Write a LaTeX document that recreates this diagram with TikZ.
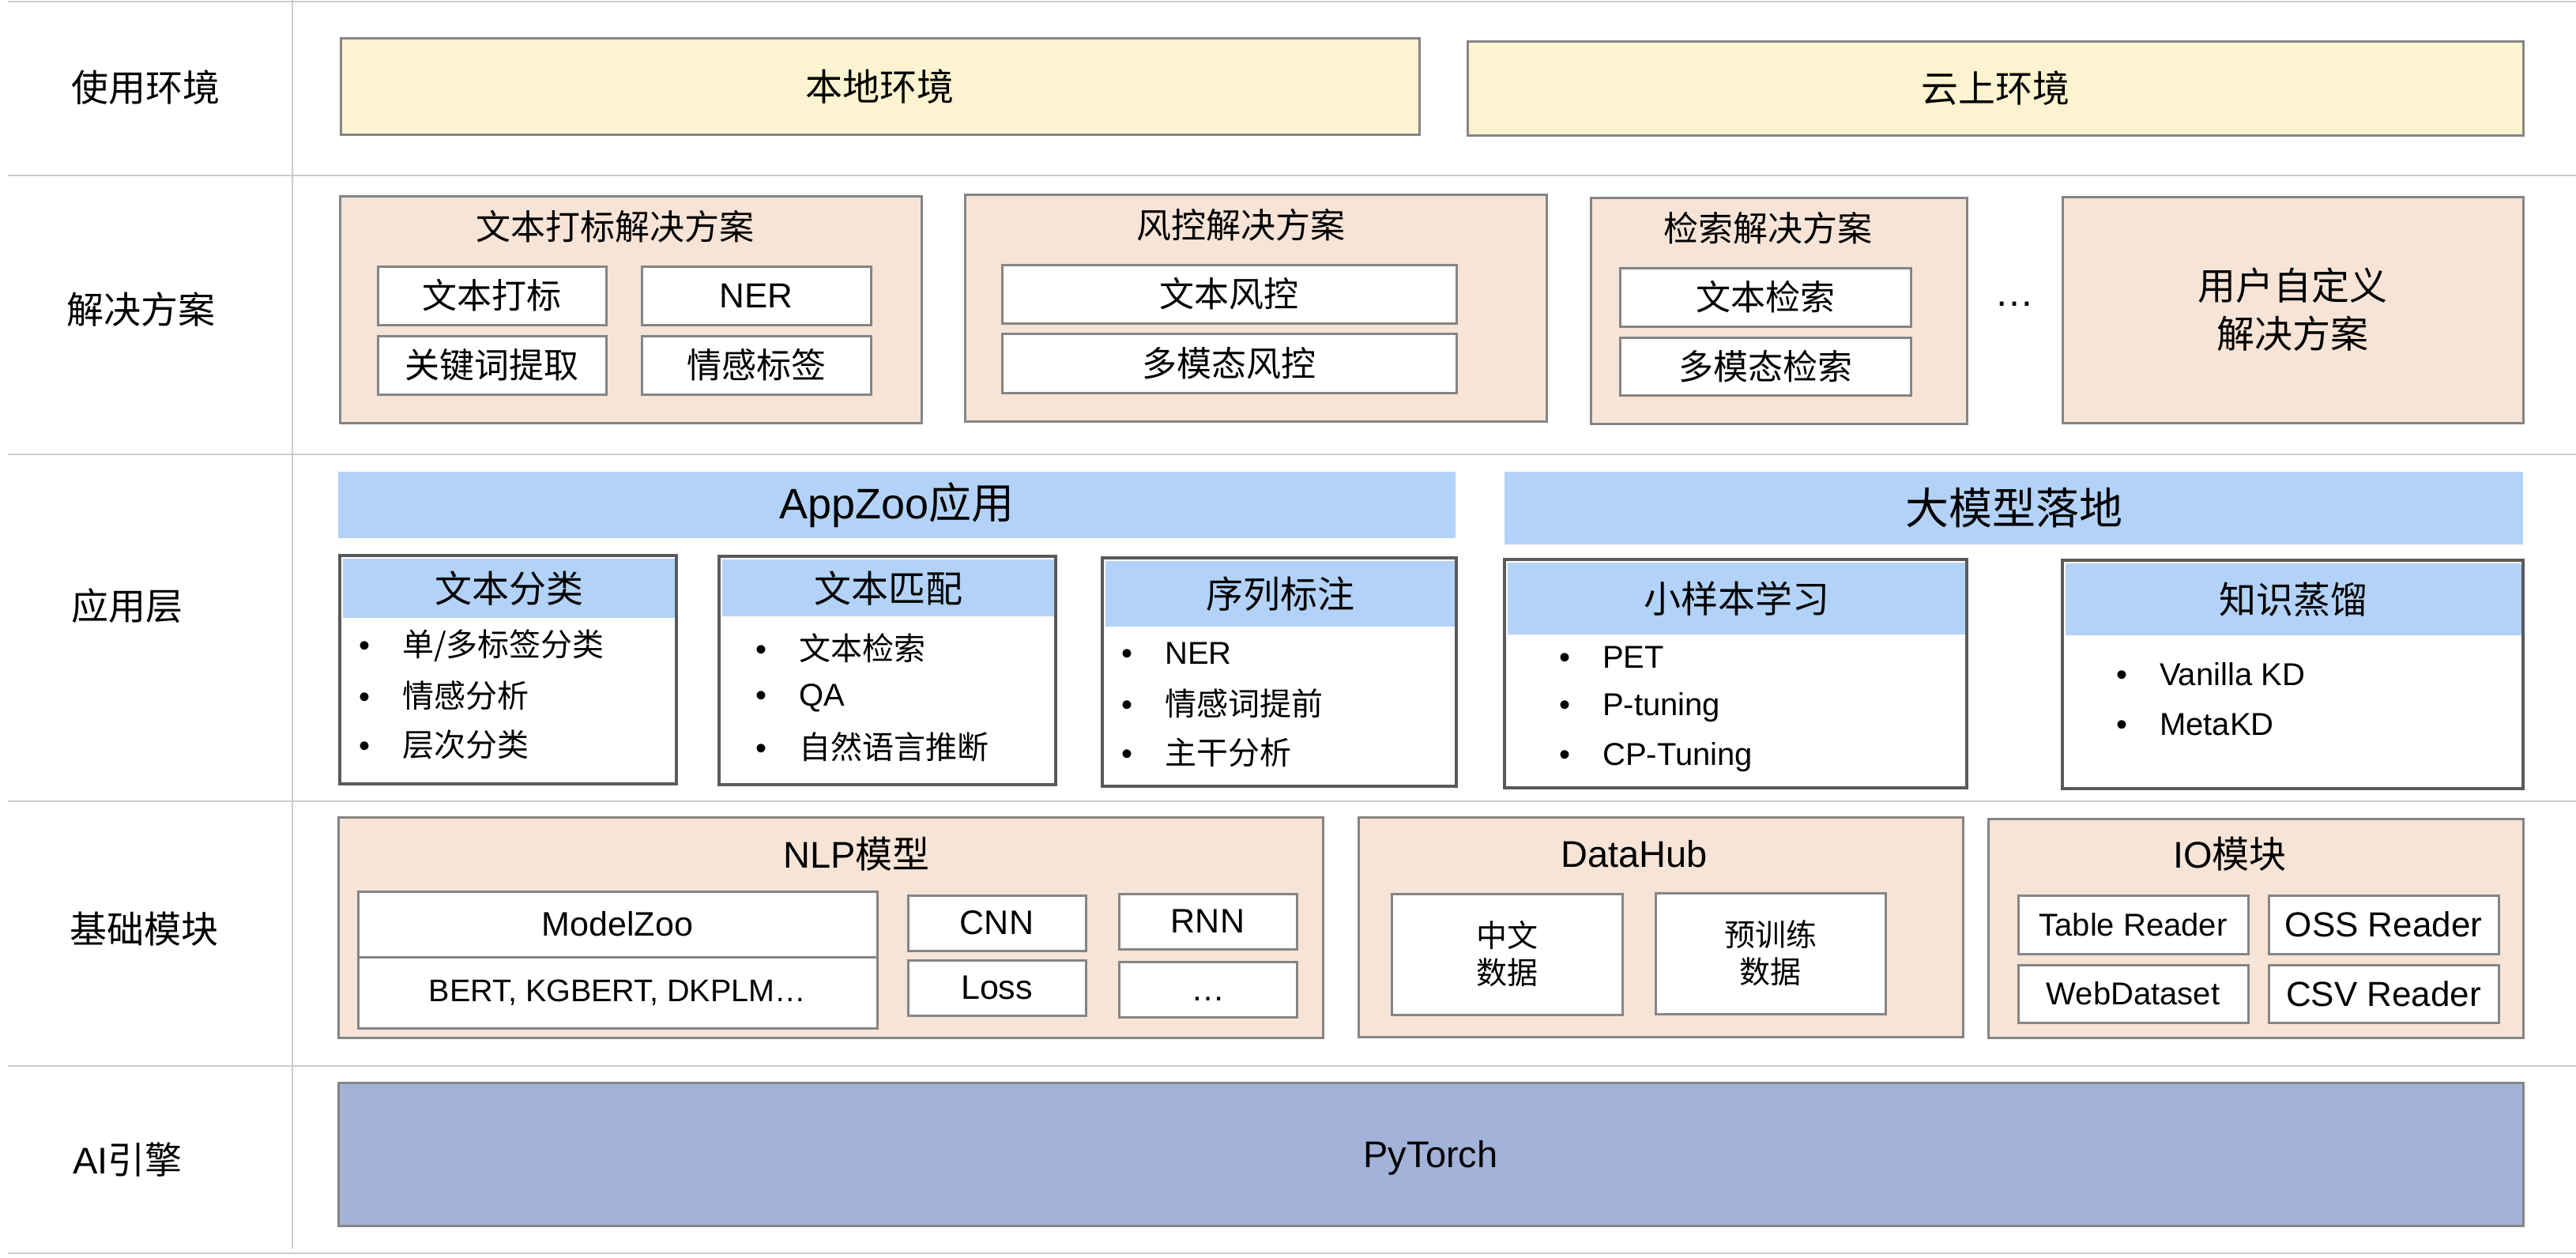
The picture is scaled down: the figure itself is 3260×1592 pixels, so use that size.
\documentclass[tikz,border=0pt]{standalone}
\usepackage{fontspec}
\setmainfont{Noto Sans CJK SC}
\newfontfamily\lat{Liberation Sans}
\definecolor{gridc}{HTML}{CCCCCC}
\definecolor{bordc}{HTML}{858585}
\definecolor{darkc}{HTML}{5A5A5A}
\definecolor{envc}{HTML}{FCF3D0}
\definecolor{beigec}{HTML}{F6E4D7}
\definecolor{bluec}{HTML}{B3D2F7}
\definecolor{torchc}{HTML}{A3B2D9}
\newcommand\fsz[1]{\fontsize{#1pt}{#1pt}\selectfont}
\newcommand\bitem[1]{\makebox[55pt][l]{\lat •}#1}
\tikzset{
  wh/.style 2 args={minimum width=#1, minimum height=#2},
  gridline/.style={draw=gridc, line width=2pt},
  rowlabel/.style={anchor=west, inner sep=0pt, font=\fsz{47}},
  envbox/.style={draw=bordc, line width=3pt, fill=envc, inner sep=0pt, font=\fsz{47}},
  solbox/.style={draw=bordc, line width=3pt, fill=beigec, inner sep=0pt},
  whitebox/.style={draw=bordc, line width=3pt, fill=white, inner sep=0pt, font=\fsz{44}, align=center},
  banner/.style={fill=bluec, inner sep=0pt},
  appbox/.style={draw=darkc, line width=3.5pt, fill=white, inner sep=0pt},
  apphead/.style={fill=bluec, inner sep=0pt, font=\fsz{47}},
  titletext/.style={inner sep=0pt, font=\fsz{47}},
  itemtxt/.style={anchor=west, inner sep=0pt, font=\fsz{40}},
  torchbox/.style={draw=bordc, line width=3pt, fill=torchc, inner sep=0pt, font=\lat\fsz{47}}
}
\begin{document}
\begin{tikzpicture}[x=1pt,y=-1pt]
\useasboundingbox[fill=white] (0,0) rectangle (3260,1592);
% grid
\draw[gridline] (10,2) -- (3260,2);
\draw[gridline] (10,222) -- (3260,222);
\draw[gridline] (10,575) -- (3260,575);
\draw[gridline] (10,1014) -- (3260,1014);
\draw[gridline] (10,1349) -- (3260,1349);
\draw[gridline] (10,1586) -- (3260,1586);
\draw[gridline] (370,0) -- (370,1580);
% row labels
\node[rowlabel] (l1) at (90,111) {使用环境};
\node[rowlabel] (l2) at (84,392) {解决方案};
\node[rowlabel] (l3) at (90,767) {应用层};
\node[rowlabel] (l4) at (88,1176) {基础模块};
\node[rowlabel] (l5) at (92,1468) {{\lat AI}引擎};
% row 1
\node[envbox, wh={1365pt}{121pt}] (local) at (1113.5,109.5) {本地环境};
\node[envbox, wh={1336pt}{118pt}] (cloud) at (2525,112) {云上环境};
% row 2
\node[solbox, wh={736pt}{287pt}] (tagsol) at (798,391.5) {};
\node[titletext, font=\fsz{44}] (tagt) at (778,287) {文本打标解决方案};
\node[whitebox, wh={289pt}{74pt}] (tag1) at (622.5,374) {文本打标};
\node[whitebox, wh={290pt}{74pt}] (tag2) at (957,374) {{\lat NER}};
\node[whitebox, wh={289pt}{74pt}] (tag3) at (622.5,462) {关键词提取};
\node[whitebox, wh={290pt}{74pt}] (tag4) at (957,462) {情感标签};
\node[solbox, wh={736pt}{287pt}] (risksol) at (1589,389.5) {};
\node[titletext, font=\fsz{44}] (riskt) at (1570,285) {风控解决方案};
\node[whitebox, wh={575pt}{74pt}] (risk1) at (1555.5,372) {文本风控};
\node[whitebox, wh={575pt}{75pt}] (risk2) at (1555.5,459.5) {多模态风控};
\node[solbox, wh={476pt}{286pt}] (srchsol) at (2251,393) {};
\node[titletext, font=\fsz{44}] (srcht) at (2237,289) {检索解决方案};
\node[whitebox, wh={368pt}{74pt}] (srch1) at (2234,376) {文本检索};
\node[whitebox, wh={368pt}{73pt}] (srch2) at (2234,463.5) {多模态检索};
\node[inner sep=0pt, font=\lat\fsz{50}] (soldots) at (2549,385) {…};
\node[solbox, wh={583pt}{286pt}, font=\fsz{48}, align=center] (custom) at (2901.5,392) {用户自定义\\[13pt]解决方案};
% row 3
\node[banner, wh={1414pt}{84pt}, font=\fsz{54}] (appzoo) at (1135,639) {{\lat AppZoo}应用};
\node[banner, wh={1289pt}{92pt}, font=\fsz{55}] (bigm) at (2548.5,643) {大模型落地};
% app boxes
\node[appbox, wh={426pt}{289pt}] (cls) at (643,847.5) {};
\node[apphead, wh={420pt}{75pt}] (clsh) at (644,744.5) {文本分类};
\node[itemtxt] (cls1) at (454,817) {\bitem{单/多标签分类}};
\node[itemtxt] (cls2) at (454,880) {\bitem{情感分析}};
\node[itemtxt] (cls3) at (454,942) {\bitem{层次分类}};
\node[appbox, wh={426pt}{289pt}] (mat) at (1123,848.5) {};
\node[apphead, wh={420pt}{72pt}] (math) at (1124,744) {文本匹配};
\node[itemtxt] (mat1) at (956,820) {\bitem{文本检索}};
\node[itemtxt] (mat2) at (956,883) {\bitem{\lat QA}};
\node[itemtxt] (mat3) at (956,945) {\bitem{自然语言推断}};
\node[appbox, wh={448pt}{289pt}] (seq) at (1619,850.5) {};
\node[apphead, wh={442pt}{83pt}] (seqh) at (1620,751.5) {序列标注};
\node[itemtxt] (seq1) at (1419,827) {\bitem{\lat NER}};
\node[itemtxt] (seq2) at (1419,890) {\bitem{情感词提前}};
\node[itemtxt] (seq3) at (1419,952) {\bitem{主干分析}};
\node[appbox, wh={585pt}{289pt}] (few) at (2196.5,852.5) {};
\node[apphead, wh={579pt}{91pt}] (fewh) at (2197.5,757.5) {小样本学习};
\node[itemtxt] (few1) at (1973,832) {\bitem{\lat PET}};
\node[itemtxt] (few2) at (1973,895) {\bitem{\lat P-tuning}};
\node[itemtxt] (few3) at (1973,958) {\bitem{\lat CP-Tuning}};
\node[appbox, wh={583pt}{289pt}] (kd) at (2901.5,853.5) {};
\node[apphead, wh={577pt}{91pt}] (kdh) at (2902.5,758.5) {知识蒸馏};
\node[itemtxt] (kd1) at (2678,853) {\bitem{\lat Vanilla KD}};
\node[itemtxt] (kd2) at (2678,917) {\bitem{\lat MetaKD}};
% row 4
\node[solbox, wh={1246pt}{279pt}] (nlp) at (1051,1173.5) {};
\node[titletext] (nlpt) at (1084,1081) {{\lat NLP}模型};
\node[whitebox, wh={657pt}{83pt}, font=\lat\fsz{43}] (mz) at (781.5,1169.5) {ModelZoo};
\node[whitebox, wh={657pt}{90pt}, font=\lat\fsz{39.5}] (bert) at (781.5,1256) {BERT, KGBERT, DKPLM…};
\node[whitebox, wh={225pt}{70pt}, font=\lat\fsz{43}] (cnn) at (1261.5,1168) {CNN};
\node[whitebox, wh={225pt}{70pt}, font=\lat\fsz{43}] (loss) at (1261.5,1250) {Loss};
\node[whitebox, wh={225pt}{70pt}, font=\lat\fsz{43}] (rnn) at (1528.5,1166) {RNN};
\node[whitebox, wh={225pt}{70pt}, font=\lat\fsz{43}] (more) at (1528.5,1252) {…\vphantom{Loss}};
\node[solbox, wh={765pt}{278pt}] (hub) at (2101.5,1173) {};
\node[titletext, font=\lat\fsz{47}] (hubt) at (2068,1081) {DataHub};
\node[whitebox, wh={292pt}{153pt}, font=\fsz{39}] (cn) at (1907,1207.5) {中文\\[8pt]数据};
\node[whitebox, wh={291pt}{153pt}, font=\fsz{39}] (pre) at (2240.5,1206.5) {预训练\\[8pt]数据};
\node[solbox, wh={677pt}{277pt}] (io) at (2854.5,1174.5) {};
\node[titletext] (iot) at (2822,1081) {{\lat IO}模块};
\node[whitebox, wh={291pt}{74pt}, font=\lat\fsz{40}] (tab) at (2699.5,1170) {Table Reader};
\node[whitebox, wh={291pt}{74pt}, font=\lat\fsz{44}] (oss) at (3016.5,1170) {OSS Reader};
\node[whitebox, wh={291pt}{73pt}, font=\lat\fsz{40}] (web) at (2699.5,1257.5) {WebDataset};
\node[whitebox, wh={291pt}{73pt}, font=\lat\fsz{44}] (csv) at (3016.5,1257.5) {CSV Reader};
% row 5
\node[torchbox, wh={2765pt}{181pt}, text depth=0pt] (torch) at (1810.5,1460.5) {PyTorch};
\end{tikzpicture}
\end{document}
